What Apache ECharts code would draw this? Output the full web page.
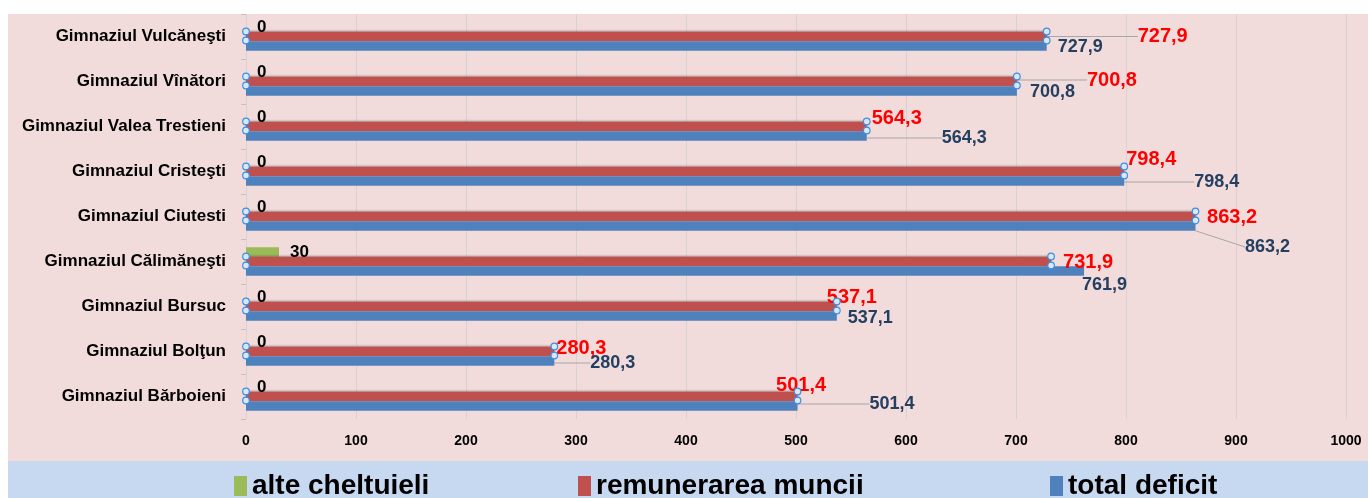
<!DOCTYPE html>
<html>
<head>
<meta charset="utf-8">
<script src="https://cdn.jsdelivr.net/npm/echarts@6/dist/echarts.min.js"></script>
<style>
html,body{margin:0;padding:0;background:#fff;}
#chart{width:1368px;height:498px;}
</style>
</head>
<body>
<div id="chart"></div>
<script>
// categories listed top to bottom
var schools = ['Gimnaziul Vulcăneşti', 'Gimnaziul Vînători', 'Gimnaziul Valea Trestieni', 'Gimnaziul Cristeşti',
    'Gimnaziul Ciutesti', 'Gimnaziul Călimăneşti', 'Gimnaziul Bursuc', 'Gimnaziul Bolţun', 'Gimnaziul Bărboieni'];
var alteCheltuieli = [0, 0, 0, 0, 0, 30, 0, 0, 0];
var remunerarea = [727.9, 700.8, 564.3, 798.4, 863.2, 731.9, 537.1, 280.3, 501.4];
var totalDeficit = [727.9, 700.8, 564.3, 798.4, 863.2, 761.9, 537.1, 280.3, 501.4];
var xTicks = [0, 1000, 100];

var FONT = "'Liberation Sans', Arial, sans-serif";

// label nudges (px) copied from the excel layout, [dx, dy]
var redShift = [[91, 0], [70, -1.5], [5, -8.5], [2, -12.5], [11.5, 0.5], [12, 0.5], [-10, -9.5], [2, -3.5], [-21.5, -11.5]];
var blueShift = [[11, 1], [13, 1], [75, 2], [70, 1], [49.5, 21], [-2, 14], [11, 2], [36, 2], [72, -2]];

function comma(v) {
    return v.toFixed(1).replace('.', ',');
}

function withLines(values, shift) {
    return values.map(function (v, i) {
        return {value: v, labelLine: {show: shift[i][0] > 30}};
    });
}

// little selection handles excel left on the labels (start and end of each row)
var handles = [];
remunerarea.forEach(function (v, i) {
    handles.push([0, i]);
    handles.push([v, i]);
});

var chart = echarts.init(document.getElementById('chart'));

var option = {
    backgroundColor: '#ffffff',
    animation: false,
    graphic: [
        {type: 'rect', z: -10, shape: {x: 8, y: 14, width: 1360, height: 448}, style: {fill: '#f2dcdb'}},
        {type: 'rect', z: -10, shape: {x: 8, y: 461, width: 1360, height: 37}, style: {fill: '#c6d9f1'}}
    ],
    legend: [
        {left: 234, data: ['alte cheltuieli']},
        {left: 578, data: ['remunerarea muncii']},
        {left: 1050, data: ['total deficit']}
    ].map(function (l) {
        l.top = 470;
        l.padding = 0;
        l.icon = 'rect';
        l.itemWidth = 13;
        l.itemHeight = 20;
        l.textStyle = {fontFamily: FONT, fontWeight: 'bold', fontSize: 28, color: '#000', lineHeight: 32};
        return l;
    }),
    grid: {left: 246, right: 22, top: 14, bottom: 79, containLabel: false},
    xAxis: {
        type: 'value',
        min: xTicks[0],
        max: xTicks[1],
        interval: xTicks[2],
        axisLine: {show: false},
        axisTick: {show: false},
        splitLine: {lineStyle: {color: '#d9d2d2', width: 1}},
        axisLabel: {
            margin: 15, fontFamily: FONT, fontWeight: 'bold', fontSize: 14, color: '#000',
            formatter: function (v) { return String(v); }
        }
    },
    yAxis: {
        type: 'category',
        inverse: true,
        data: schools,
        axisLine: {show: false},
        axisTick: {show: true, length: 5, lineStyle: {color: '#c8bebe'}},
        axisLabel: {margin: 20, fontFamily: FONT, fontWeight: 'bold', fontSize: 17, color: '#000'}
    },
    series: [
        {
            name: 'alte cheltuieli',
            type: 'bar',
            data: alteCheltuieli,
            barWidth: 9.5,
            barGap: '0%',
            itemStyle: {color: '#9bbb59'},
            label: {
                show: true, position: 'right', distance: 11,
                fontFamily: FONT, fontWeight: 'bold', fontSize: 17, color: '#000',
                formatter: function (p) { return String(p.value); }
            }
        },
        {
            name: 'remunerarea muncii',
            type: 'bar',
            data: withLines(remunerarea, redShift),
            barWidth: 9.5,
            barGap: '0%',
            itemStyle: {color: '#c0504d', shadowColor: 'rgba(0,0,0,0.35)', shadowBlur: 2, shadowOffsetY: -1},
            label: {
                show: true, position: 'right', distance: 0,
                fontFamily: FONT, fontWeight: 'bold', fontSize: 20, color: '#ff0000',
                formatter: function (p) { return comma(p.value); }
            },
            labelLine: {lineStyle: {color: '#a6a6a6', width: 1}},
            labelLayout: function (p) {
                return {dx: redShift[p.dataIndex][0], dy: redShift[p.dataIndex][1]};
            }
        },
        {
            name: 'total deficit',
            type: 'bar',
            data: withLines(totalDeficit, blueShift),
            barWidth: 9.5,
            barGap: '0%',
            itemStyle: {color: '#4f81bd'},
            label: {
                show: true, position: 'right', distance: 0,
                fontFamily: FONT, fontWeight: 'bold', fontSize: 18, color: '#243f60',
                formatter: function (p) { return comma(p.value); }
            },
            labelLine: {lineStyle: {color: '#a6a6a6', width: 1}},
            labelLayout: function (p) {
                return {dx: blueShift[p.dataIndex][0], dy: blueShift[p.dataIndex][1]};
            }
        },
        {
            type: 'custom',
            silent: true,
            z: 5,
            data: handles,
            renderItem: function (params, api) {
                var pt = api.coord([api.value(0), api.value(1)]);
                var st = {fill: '#d6e8fa', stroke: '#3d8ee0', lineWidth: 1.2};
                return {
                    type: 'group',
                    children: [
                        {type: 'circle', shape: {cx: pt[0], cy: pt[1] - 5, r: 3.3}, style: st},
                        {type: 'circle', shape: {cx: pt[0], cy: pt[1] + 4, r: 3.3}, style: st}
                    ]
                };
            }
        }
    ]
};

chart.setOption(option);
</script>
</body>
</html>
